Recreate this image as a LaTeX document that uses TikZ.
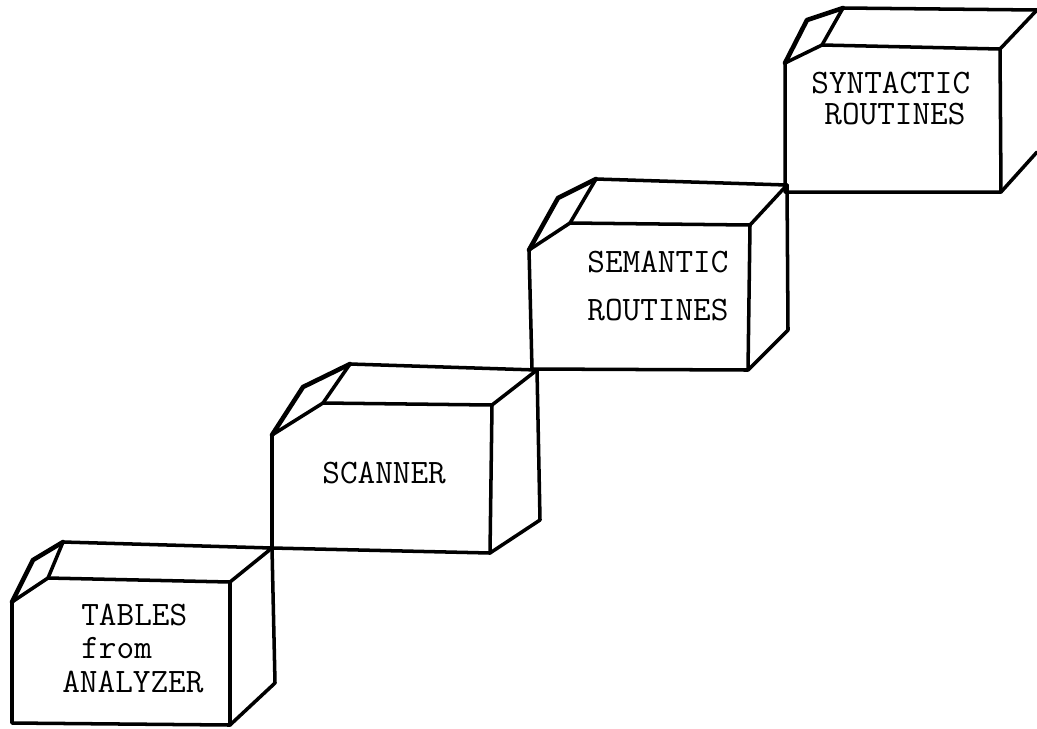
\documentclass[tikz,border=0pt]{standalone}
\usepackage{fontspec}
\tikzset{
  crate/.style={line width=2pt, line join=round, line cap=round},
  flap/.style={line width=2.6pt, line join=round, line cap=round},
  lbl/.style={font=\ttfamily\fontsize{19.5}{22}\selectfont, anchor=base west, inner sep=0pt}
}

\begin{document}
\begin{tikzpicture}[x=0.02cm, y=-0.02cm]
  \useasboundingbox (0,0) rectangle (1037,728);

  % tables box
  \draw[crate] (12,602) -- (12,723) -- (230,725) -- (230,582) -- (48,578) -- cycle;
  \draw[flap] (12,602) -- (33,560) -- (63,542);
  \draw[crate] (63,542) -- (48,578);
  \draw[crate] (63,542) -- (272,548) -- (230,582);
  \draw[crate] (272,548) -- (275,683) -- (230,725);

  % scanner box
  \draw[crate] (272,435) -- (272,548) -- (490,553) -- (492,405) -- (323,403) -- cycle;
  \draw[flap] (272,435) -- (303,387) -- (350,364);
  \draw[crate] (350,364) -- (323,403);
  \draw[crate] (350,364) -- (537,370) -- (492,405);
  \draw[crate] (537,370) -- (540,520) -- (490,553);

  % semantic box
  \draw[crate] (529,250) -- (532,369) -- (748,370) -- (750,225) -- (570,223) -- cycle;
  \draw[flap] (529,250) -- (558,198) -- (596,179);
  \draw[crate] (596,179) -- (570,223);
  \draw[crate] (596,179) -- (787,185) -- (750,225);
  \draw[crate] (787,185) -- (788,330) -- (748,370);

  % syntactic box
  \draw[crate] (785,63) -- (785,192) -- (1001,192) -- (1000,49) -- (822,45) -- cycle;
  \draw[flap] (785,63) -- (807,20) -- (843,8);
  \draw[crate] (843,8) -- (822,45);
  \draw[crate] (843,8) -- (1037,10);
  \draw[crate] (1000,49) -- (1036,11);
  \draw[crate] (1001,192) -- (1037,152);

  \node[lbl] (tables) at (81,625) {TABLES};
  \node[lbl] (from) at (81,658) {from};
  \node[lbl] (analyzer) at (62,692) {ANALYZER};
  \node[lbl] (scanner) at (322,483) {SCANNER};
  \node[lbl] (semantic) at (587,272) {SEMANTIC};
  \node[lbl] (routinesa) at (587,320) {ROUTINES};
  \node[lbl] (syntactic) at (811,93) {SYNTACTIC};
  \node[lbl] (routinesb) at (824,124) {ROUTINES};
\end{tikzpicture}
\end{document}
